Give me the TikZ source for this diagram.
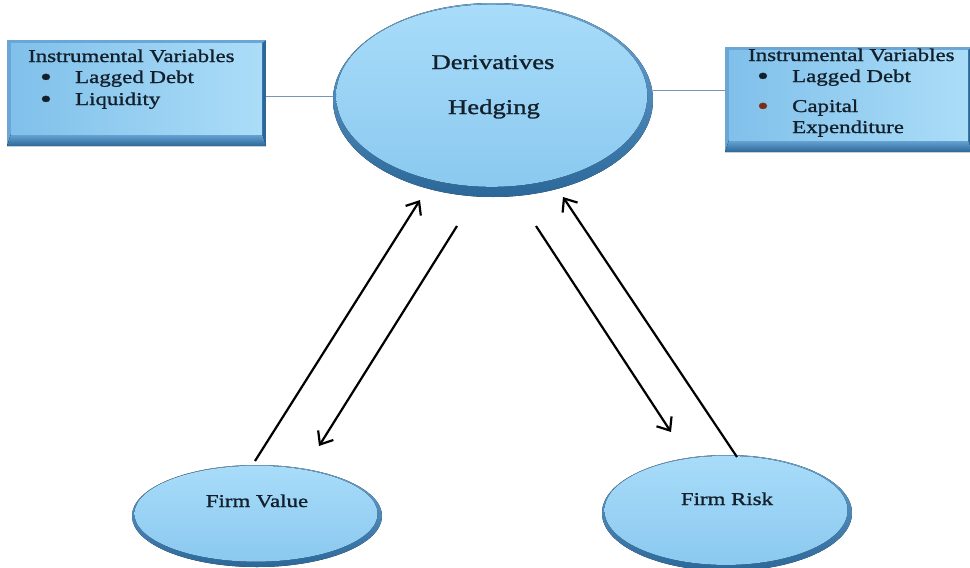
\documentclass[tikz,border=0pt]{standalone}
\usepackage{fontspec}
\setmainfont{Liberation Serif}[FakeStretch=1.27,FakeBold=1.2]
\usetikzlibrary{arrows.meta,shapes.geometric,calc}
\definecolor{rimdark}{HTML}{2B6899}
\definecolor{rimmid}{HTML}{6AA6D6}
\definecolor{facetop}{HTML}{A8DCF9}
\definecolor{facebot}{HTML}{8BC9F0}
\definecolor{faceleft}{HTML}{80C0EA}
\definecolor{faceright}{HTML}{ABDDF8}
\definecolor{txt}{HTML}{13202C}
\definecolor{linkc}{HTML}{7896B4}
\definecolor{bultwo}{HTML}{7A2E16}
\newcommand\bevEll[4]{%
  \fill[bottom color=rimdark, top color=rimmid] (#1,#2) ellipse [x radius=#3pt, y radius=#4pt];
  \fill[top color=facetop, bottom color=facebot] ({#1-0.008*#3},{#2-0.045*#4}) ellipse [x radius={0.972*#3pt}, y radius={0.94*#4pt}];
}
\newcommand\bevBox[4]{%
  \fill[rimdark] (#1,#2) rectangle (#3,#4);
  \fill[rimmid] (#1,#2) -- (#3,#2) -- ({#3-4},{#2+3}) -- ({#1+4},{#2+3}) -- ({#1+4},{#4-12}) -- (#1,#4) -- cycle;
  \fill[top color=rimmid, bottom color=rimdark] (#1,#4) -- ({#1+4},{#4-12}) -- ({#3-4},{#4-12}) -- (#3,#4) -- cycle;
  \fill[left color=faceleft, right color=faceright] ({#1+4},{#2+3}) rectangle ({#3-4},{#4-12});
}
\newcommand\blt[1][txt]{\makebox[35pt][l]{\smash{\raisebox{-2.5pt}{\textcolor{#1}{\fontsize{26}{26}\selectfont\textbullet}}}}}
\begin{document}
\begin{tikzpicture}[x=1pt,y=-1pt,
  lbl/.style={anchor=base west, inner sep=0pt, text=txt, font=\fontsize{18}{21}\selectfont},
  clbl/.style={anchor=base, inner sep=0pt, text=txt, font=\fontsize{18}{21}\selectfont},
  big/.style={anchor=base, inner sep=0pt, text=txt, font=\fontsize{21}{25}\selectfont},
  holder/.style={inner sep=0pt, draw=none},
  link/.style={draw=linkc, line width=1pt},
  arr/.style={line width=2.2pt, -{Straight Barb[length=11pt,width=18pt]}}]
\useasboundingbox (0,0) rectangle (970,568);
\fill[white] (0,0) rectangle (970,568);

% shapes
\bevBox{7}{40}{266}{146}
\bevBox{725}{47}{972}{152}
\bevEll{493}{100}{160}{97}
\bevEll{257}{516}{125}{51}
\bevEll{727}{513}{125}{58}

% named holders
\node[holder, rectangle, minimum width=259pt, minimum height=106pt] (lbox) at (136.5,93) {};
\node[holder, rectangle, minimum width=247pt, minimum height=105pt] (rbox) at (848.5,99.5) {};
\node[holder, ellipse, minimum width=320pt, minimum height=194pt] (hedge) at (493,100) {};
\node[holder, ellipse, minimum width=250pt, minimum height=102pt] (fv) at (257,516) {};
\node[holder, ellipse, minimum width=250pt, minimum height=116pt] (fr) at (727,513) {};

% texts
\node[lbl] (l1) at (28,62) {Instrumental Variables};
\node[lbl] (l2) at (40,83) {\blt Lagged Debt};
\node[lbl] (l3) at (40,105) {\blt Liquidity};
\node[lbl] (r1) at (748,61) {Instrumental Variables};
\node[lbl] (r2) at (757,82) {\blt Lagged Debt};
\node[lbl] (r3) at (757,112) {\blt[bultwo]Capital};
\node[lbl] (r4) at (792,133) {Expenditure};
\node[big] (h1) at (493,69) {Derivatives};
\node[big] (h2) at (494,114) {Hedging};
\node[clbl] (fvt) at (257,507) {Firm Value};
\node[clbl] (frt) at (727,505) {Firm Risk};

% links
\coordinate (ly) at (0,96);
\coordinate (ry) at (0,90);
\draw[link] (lbox.east |- ly) -- (hedge.west |- ly);
\draw[link] (hedge.east |- ry) -- (rbox.west |- ry);

% arrows
\coordinate (a1s) at (255,461);
\coordinate (a1e) at (420,200);
\coordinate (a2s) at (457,226);
\coordinate (a2e) at (319,446);
\coordinate (a3s) at (536,226);
\coordinate (a3e) at (671,432);
\coordinate (a4s) at (737,457);
\coordinate (a4e) at (563,197);
\draw[arr] (a1s) -- (a1e);
\draw[arr] (a2s) -- (a2e);
\draw[arr] (a3s) -- (a3e);
\draw[arr] (a4s) -- (a4e);
\end{tikzpicture}
\end{document}
